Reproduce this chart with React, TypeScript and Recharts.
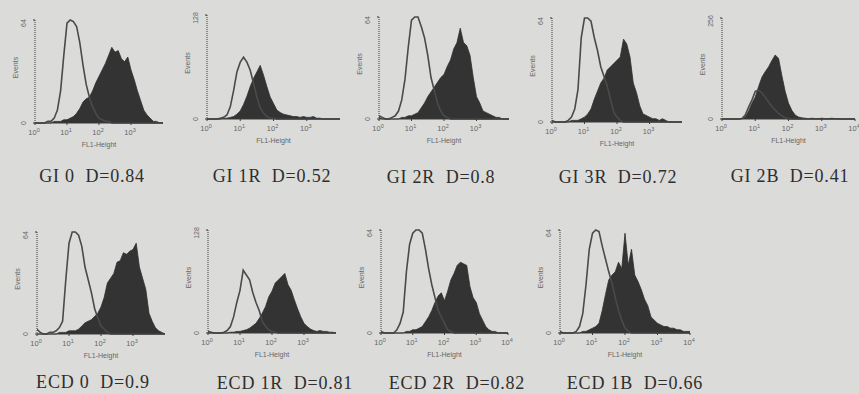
import React from 'react';
import { ComposedChart, Area, Line, XAxis, YAxis } from 'recharts';

// log10 of FL1-Height, one bin every 0.1 decade
const DECADES = [
  0, 0.1, 0.2, 0.3, 0.4, 0.5, 0.6, 0.7, 0.8, 0.9, 1, 1.1, 1.2, 1.3, 1.4, 1.5, 1.6, 1.7, 1.8, 1.9, 2,
  2.1, 2.2, 2.3, 2.4, 2.5, 2.6, 2.7, 2.8, 2.9, 3, 3.1, 3.2, 3.3, 3.4, 3.5, 3.6, 3.7, 3.8, 3.9, 4,
];

const GI0_OPEN = [0, 0, 0, 0, 1, 1, 3, 8, 20, 42, 62, 64, 63, 60, 50, 36, 24, 16, 10, 6, 3, 2, 1, 1, 0, 0, 0, 0, 0, 0, 0, 0, 0, 0, 0, 0, 0, 0, 0, 0, 0];
const GI0_FILLED = [0, 0, 0, 0, 0, 0, 1, 1, 1, 2, 2, 3, 4, 6, 9, 13, 15, 16, 20, 25, 29, 33, 37, 42, 47, 44, 45, 40, 38, 41, 33, 27, 20, 14, 8, 5, 3, 1, 1, 0, 0];

const GI1R_OPEN = [0, 0, 0, 0, 1, 2, 5, 15, 35, 58, 70, 76, 70, 60, 44, 27, 14, 7, 3, 1, 1, 0, 0, 0, 0, 0, 0, 0, 0, 0, 0, 0, 0, 0, 0, 0, 0, 0, 0, 0, 0];
const GI1R_FILLED = [0, 0, 0, 0, 0, 1, 1, 2, 3, 6, 10, 18, 28, 40, 50, 58, 66, 54, 40, 27, 19, 11, 8, 6, 5, 4, 3, 3, 2, 3, 2, 2, 3, 1, 1, 0, 0, 0, 0, 0, 0];

const GI2R_OPEN = [2, 1, 0, 0, 1, 2, 5, 12, 25, 45, 62, 64, 64, 58, 51, 40, 26, 18, 10, 5, 2, 1, 0, 0, 0, 0, 0, 0, 0, 0, 0, 0, 0, 0, 0, 0, 0, 0, 0, 0, 0];
const GI2R_FILLED = [1, 0, 0, 0, 0, 0, 0, 1, 1, 2, 2, 3, 4, 7, 10, 14, 17, 20, 23, 26, 28, 33, 37, 44, 48, 57, 48, 46, 40, 26, 14, 10, 5, 4, 3, 2, 1, 1, 0, 0, 0];

const GI3R_OPEN = [1, 0, 0, 0, 0, 1, 3, 8, 20, 52, 64, 64, 62, 52, 44, 34, 28, 22, 14, 6, 3, 1, 0, 0, 0, 0, 0, 0, 0, 0, 0, 0, 0, 0, 0, 0, 0, 0, 0, 0, 0];
const GI3R_FILLED = [0, 0, 0, 0, 0, 0, 1, 1, 1, 2, 3, 5, 8, 14, 19, 24, 27, 32, 34, 36, 38, 40, 51, 48, 40, 24, 18, 10, 5, 4, 3, 2, 2, 1, 2, 1, 0, 0, 0, 0, 0];

const GI2B_OPEN = [0, 0, 0, 0, 0, 0, 1, 10, 30, 48, 70, 73, 66, 55, 43, 32, 23, 14, 8, 3, 1, 0, 0, 0, 0, 0, 0, 0, 0, 0, 0, 0, 0, 0, 0, 0, 0, 0, 0, 0, 0];
const GI2B_FILLED = [0, 0, 0, 0, 0, 0, 1, 5, 20, 40, 56, 82, 106, 120, 132, 148, 162, 154, 110, 70, 40, 22, 10, 5, 3, 2, 1, 2, 1, 1, 2, 1, 1, 2, 1, 1, 0, 0, 0, 0, 0];

const ECD0_OPEN = [3, 1, 0, 0, 1, 1, 2, 4, 8, 34, 57, 64, 64, 62, 55, 42, 34, 26, 16, 10, 5, 3, 1, 0, 0, 0, 0, 0, 0, 0, 0, 0, 0, 0, 0, 0, 0, 0, 0, 0, 0];
const ECD0_FILLED = [0, 0, 0, 0, 0, 0, 0, 1, 1, 1, 2, 2, 2, 3, 5, 7, 8, 9, 11, 13, 17, 23, 32, 35, 38, 45, 46, 51, 50, 52, 53, 57, 42, 35, 28, 13, 8, 4, 2, 1, 0];

const ECD1R_OPEN = [2, 1, 0, 0, 0, 1, 3, 8, 20, 38, 53, 78, 72, 66, 50, 38, 28, 14, 8, 4, 2, 1, 0, 0, 0, 0, 0, 0, 0, 0, 0, 0, 0, 0, 0, 0, 0, 0, 0, 0, 0];
const ECD1R_FILLED = [0, 0, 0, 0, 0, 0, 0, 1, 1, 2, 2, 3, 4, 6, 9, 12, 18, 25, 33, 45, 52, 62, 66, 70, 74, 60, 53, 41, 30, 20, 12, 8, 5, 3, 2, 3, 2, 2, 1, 1, 0];

const ECD2R_OPEN = [1, 0, 0, 0, 0, 2, 6, 13, 38, 55, 62, 64, 64, 62, 52, 40, 30, 22, 14, 10, 6, 2, 1, 0, 0, 0, 0, 0, 0, 0, 0, 0, 0, 0, 0, 0, 0, 0, 0, 0, 0];
const ECD2R_FILLED = [0, 0, 0, 0, 0, 0, 0, 0, 1, 1, 2, 2, 3, 4, 7, 10, 14, 19, 23, 25, 20, 26, 33, 37, 42, 44, 43, 42, 29, 22, 19, 12, 8, 4, 2, 1, 1, 0, 0, 0, 0];

const ECD1B_OPEN = [1, 0, 0, 0, 0, 1, 4, 12, 30, 52, 62, 64, 63, 54, 46, 38, 31, 22, 14, 8, 3, 1, 0, 0, 0, 0, 0, 0, 0, 0, 0, 0, 0, 0, 0, 0, 0, 0, 0, 0, 0];
const ECD1B_FILLED = [0, 0, 0, 0, 0, 0, 0, 1, 1, 2, 3, 4, 6, 14, 24, 33, 36, 38, 44, 40, 62, 42, 52, 36, 32, 27, 21, 17, 10, 8, 6, 5, 4, 4, 3, 3, 2, 2, 1, 1, 1];

const CAPTIONS = [
  'GI 0  D=0.84', 'GI 1R  D=0.52', 'GI 2R  D=0.8', 'GI 3R  D=0.72', 'GI 2B  D=0.41',
  'ECD 0  D=0.9', 'ECD 1R  D=0.81', 'ECD 2R  D=0.82', 'ECD 1B  D=0.66',
];
const EVENT_MAX = [64, 128, 64, 64, 256, 64, 128, 64, 64];
const OPEN_SERIES = [GI0_OPEN, GI1R_OPEN, GI2R_OPEN, GI3R_OPEN, GI2B_OPEN, ECD0_OPEN, ECD1R_OPEN, ECD2R_OPEN, ECD1B_OPEN];
const FILLED_SERIES = [GI0_FILLED, GI1R_FILLED, GI2R_FILLED, GI3R_FILLED, GI2B_FILLED, ECD0_FILLED, ECD1R_FILLED, ECD2R_FILLED, ECD1B_FILLED];
const X_TICK_EXPONENTS = ['0', '1', '2', '3', '4'];
const SHOWS_TOP_DECADE = [false, false, false, false, true, false, false, true, true];

// plot area placement on the page (y axis x, plot top, size) and caption centre
const LAYOUT = [
  { x: 35, y: 20, w: 128, h: 103, cx: 92, cy: 176 },
  { x: 207, y: 15, w: 133, h: 104, cx: 272, cy: 176 },
  { x: 379, y: 17, w: 130, h: 102, cx: 441, cy: 177 },
  { x: 552, y: 18, w: 130, h: 104, cx: 618, cy: 177 },
  { x: 722, y: 18, w: 133, h: 101, cx: 790, cy: 176 },
  { x: 37, y: 232, w: 128, h: 102, cx: 93, cy: 382 },
  { x: 208, y: 230, w: 128, h: 103, cx: 285, cy: 383 },
  { x: 381, y: 230, w: 127, h: 103, cx: 457, cy: 383 },
  { x: 560, y: 230, w: 130, h: 103, cx: 635, cy: 383 },
];

const INK = '#3a3a3a';
const AXIS_TEXT = '#666';
const SMALL_FONT = '"Liberation Sans", Arial, sans-serif';

function XTick({ x, y, payload }: any) {
  return (
    <text x={x - 1} y={y + 8} textAnchor="middle" fontSize={7.5} fill={AXIS_TEXT} fontFamily={SMALL_FONT}>
      10
      <tspan fontSize={5.5} dy={-3}>
        {X_TICK_EXPONENTS[payload.value]}
      </tspan>
    </text>
  );
}

function YTick({ x, y, payload }: any) {
  const tx = x - 5;
  return (
    <text x={tx} y={y} transform={`rotate(-90 ${tx} ${y})`} textAnchor="middle" fontSize={7} fill={AXIS_TEXT} fontFamily={SMALL_FONT}>
      {payload.value}
    </text>
  );
}

function Histogram({ i }: { i: number }) {
  const box = LAYOUT[i];
  const data = DECADES.map((d, k) => ({ x: d, open: OPEN_SERIES[i][k], filled: FILLED_SERIES[i][k] }));
  const left = 30;
  const top = 6;
  const right = 6;
  const bottom = 34;
  const ticks = SHOWS_TOP_DECADE[i] ? [0, 1, 2, 3, 4] : [0, 1, 2, 3];
  return (
    <div style={{ position: 'absolute', left: box.x - left, top: box.y - top }}>
      <ComposedChart
        width={left + box.w + right}
        height={top + box.h + bottom}
        data={data}
        margin={{ top, right, bottom: 0, left: 0 }}
      >
        <XAxis
          dataKey="x"
          type="number"
          domain={[0, 4]}
          ticks={ticks}
          allowDataOverflow
          height={bottom}
          tick={<XTick />}
          tickSize={2}
          tickLine={{ stroke: INK }}
          axisLine={{ stroke: INK, strokeWidth: 1 }}
          label={{
            content: ({ viewBox }: any) => (
              <text x={viewBox.x + viewBox.width / 2} y={viewBox.y + 24} textAnchor="middle" fontSize={7} fill={AXIS_TEXT} fontFamily={SMALL_FONT}>
                FL1-Height
              </text>
            ),
          }}
        />
        <YAxis
          type="number"
          domain={[0, EVENT_MAX[i]]}
          ticks={[0, EVENT_MAX[i]]}
          width={left}
          tick={<YTick />}
          tickSize={2}
          tickLine={{ stroke: INK }}
          axisLine={{ stroke: INK, strokeDasharray: '1 1' }}
          label={{
            content: ({ viewBox }: any) => {
              const lx = viewBox.x + 13;
              const ly = viewBox.y + viewBox.height / 2 - 4;
              return (
                <text x={lx} y={ly} transform={`rotate(-90 ${lx} ${ly})`} textAnchor="middle" fontSize={7} fill={AXIS_TEXT} fontFamily={SMALL_FONT}>
                  Events
                </text>
              );
            },
          }}
        />
        <Area type="linear" dataKey="filled" stroke="#2f2f2f" strokeWidth={0.8} fill="#333333" fillOpacity={1} isAnimationActive={false} dot={false} />
        <Line type="linear" dataKey="open" stroke="#4a4a4a" strokeWidth={1.6} dot={false} isAnimationActive={false} />
      </ComposedChart>
    </div>
  );
}

export default function App() {
  return (
    <div style={{ position: 'absolute', left: 0, top: 0, width: 859, height: 394, background: '#dbdbd9', overflow: 'hidden' }}>
      {CAPTIONS.map((c, i) => (
        <Histogram key={c} i={i} />
      ))}
      {CAPTIONS.map((c, i) => (
        <div
          key={'cap' + c}
          style={{
            position: 'absolute',
            left: LAYOUT[i].cx - 100,
            top: LAYOUT[i].cy - 11,
            width: 200,
            lineHeight: '22px',
            textAlign: 'center',
            whiteSpace: 'pre',
            fontFamily: '"Liberation Serif", "Times New Roman", serif',
            fontSize: 18,
            letterSpacing: 0.8,
            color: '#2e2e2e',
          }}
        >
          {c}
        </div>
      ))}
    </div>
  );
}
